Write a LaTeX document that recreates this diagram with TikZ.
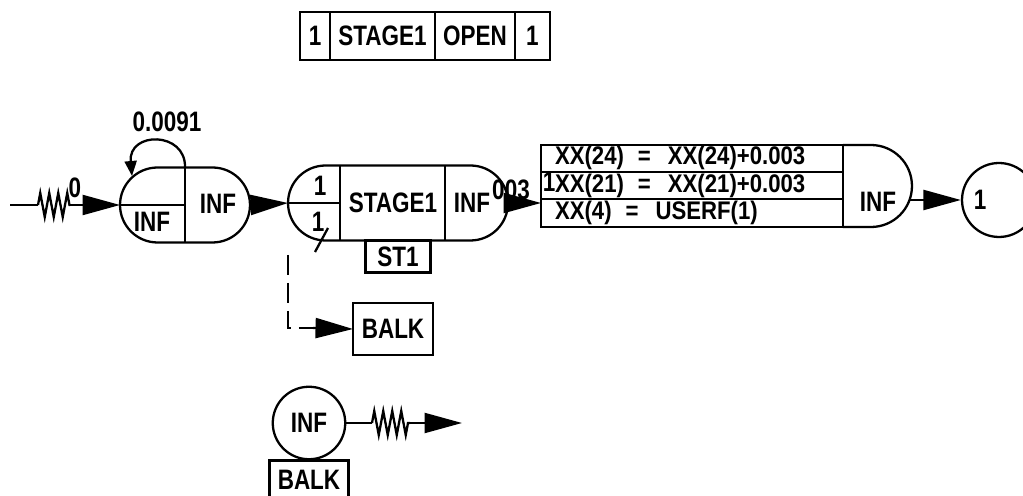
\documentclass[tikz,border=0pt]{standalone}
\usepackage{fontspec}
\setmainfont{Liberation Sans}[FakeStretch=0.8]
\newfontfamily\rowfont{Liberation Sans}[FakeStretch=0.87]
\usetikzlibrary{arrows.meta,shapes.misc,decorations.pathmorphing}
\tikzset{
  arr/.style={-{Triangle[length=0.75cm,width=0.4cm]}},
  box/.style={draw,rectangle,inner sep=0pt,outer sep=0pt,minimum height=0.96cm},
  stad/.style={draw,rounded rectangle,minimum height=1.5cm,inner sep=0pt,outer sep=0pt},
  wig/.style={decorate,decoration={zigzag,segment length=0.18cm,amplitude=0.24cm}},
  balkline/.style={dash pattern=on 0.4cm off 0.16cm},
  rowtxt/.style={anchor=west,font=\rowfont\bfseries\fontsize{14.5}{16}\selectfont}
}
\newcommand{\eqgap}{\hspace{0.28cm}=\hspace{0.34cm}}
\begin{document}
\begin{tikzpicture}[x=0.02cm,y=0.02cm,line width=1.3pt,font=\bfseries\fontsize{16}{18}\selectfont]
\useasboundingbox (0,0) rectangle (1023,496);
% resource header
\node[box,minimum width=0.6cm] (hA) at (315,460) {1};
\node[box,minimum width=2.1cm,anchor=west] (hB) at (hA.east) {STAGE1};
\node[box,minimum width=1.6cm,anchor=west] (hC) at (hB.east) {OPEN};
\node[box,minimum width=0.7cm,anchor=west] (hD) at (hC.east) {1};

% first queue
\node[stad,minimum width=2.6cm] (q1) at (185,291) {};
\draw (q1.north) -- (q1.south) (q1.west) -- (q1.center);
\node (q1a) at (152,274) {INF};
\node (q1b) at (218,292) {INF};
\draw[-{Triangle[length=0.3cm,width=0.24cm]}] (q1.north) .. controls (186,365) and (128,365) .. (132,320);
\node (q1lbl) at (167,374) {0.0091};

% arrivals
\coordinate (in) at (10,291);
\draw (in) -- (38,291) coordinate (w1);
\draw[wig] (w1) -- (70,291) coordinate (w2);
\draw[arr] (w2) -- (q1.west);
\node (lbl0) at (75,308) {0};

% stage 1 queue
\node[stad,minimum width=4.4cm] (q2) at (398,293) {};
\draw (340,331) -- (340,256) (445,331) -- (445,256) (q2.west) -- (340,293);
\node (q2a) at (320,310) {1};
\node (q2b) at (318,274) {1};
\node (q2c) at (393,293) {STAGE1};
\node (q2d) at (472,293) {INF};
\draw (315,244) -- (328,268);
\node[box,minimum width=1.3cm,minimum height=0.64cm,anchor=north] (st1) at (q2.south) {ST1};
\draw[arr] (q1.east) -- (q2.west);

% assignments
\node[draw,rectangle,outer sep=0pt,minimum width=6.04cm,minimum height=1.64cm] (act) at (692,310) {};
\draw (541,324) -- (843,324) (541,297) -- (843,297);
\draw (act.north east) -- ++(28,0) arc[start angle=90,end angle=-90,radius=41] -- (act.south east);
\node[rowtxt] (r1) at (548,338) {XX(24)\eqgap XX(24)+0.003};
\node[rowtxt] (r2) at (548,310) {XX(21)\eqgap XX(21)+0.003};
\node[rowtxt] (r3) at (548,283) {XX(4)\eqgap USERF(1)};
\node (actinf) at (878,294) {INF};
\coordinate (actout) at (910,296);
\draw[arr] (q2.east) -- (q2.east -| act.west);
\node (l003) at (511,306) {003};
\node (l1) at (549,314) {1};

% terminate
\node[draw,circle,minimum size=1.48cm,inner sep=0pt] (sink) at (999,296) {};
\node (sinklbl) at (980,296) {1};
\draw[arr] (actout) -- (sink.west);

% balking
\coordinate (bk) at (288,241);
\draw[balkline] (bk) |- (313,168) coordinate (bk2);
\node[box,minimum width=1.6cm,minimum height=1.04cm] (balk1) at (393,167) {BALK};
\draw[arr] (bk2) -- (balk1.west);

% balk source
\node[draw,circle,minimum size=1.45cm,inner sep=0pt] (src) at (309,73) {INF};
\node[box,minimum width=1.58cm,minimum height=0.76cm,anchor=north] (balk2) at (src.south) {BALK};
\draw (src.east) -- (372,73) coordinate (w3);
\draw[wig] (w3) -- (410,73) coordinate (w4);
\draw (w4) -- (420,73) coordinate (w5);
\coordinate (out) at (462,73);
\draw[arr] (w5) -- (out);
\end{tikzpicture}
\end{document}
